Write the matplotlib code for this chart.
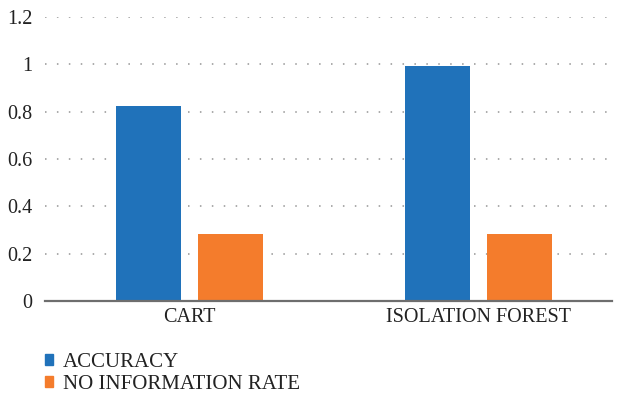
import numpy as np
import matplotlib.pyplot as plt
from matplotlib.patches import Patch

categories = ["CART", "ISOLATION FOREST"]
accuracy = [0.824, 0.995]
no_info_rate = [0.283, 0.283]
series_names = ["ACCURACY", "NO INFORMATION RATE"]
yticks = [0, 0.2, 0.4, 0.6, 0.8, 1, 1.2]
ytick_labels = ["0", "0.2", "0.4", "0.6", "0.8", "1", "1.2"]

BLUE = "#2072ba"
ORANGE = "#f47c2c"

plt.rcParams['font.family'] = ['Liberation Serif', 'DejaVu Serif']

fig = plt.figure(figsize=(6.19, 3.98), dpi=100)
W, H = 619, 398
ax = fig.add_axes([45 / W, 1 - 301 / H, (612 - 45) / W, (301 - 17) / H])

x = np.arange(len(categories))
width = 0.225
offset = 0.142
ax.bar(x - offset, accuracy, width, color=BLUE, zorder=3)
ax.bar(x + offset, no_info_rate, width, color=ORANGE, zorder=3)

ax.set_xlim(-0.501, 1.464)
ax.set_ylim(0, 1.2)
ax.set_yticks(yticks)
ax.set_yticklabels(ytick_labels)
ax.set_xticks(x)
ax.set_xticklabels(categories)

ax.grid(axis='y', color='#959595', linewidth=1.1, linestyle=(0, (1, 6.8)), zorder=0)
for s in ['top', 'right', 'left']:
    ax.spines[s].set_visible(False)
ax.spines['bottom'].set_color('#6e6e6e')
ax.spines['bottom'].set_linewidth(1.6)
ax.spines['bottom'].set_zorder(4)
ax.tick_params(length=0, labelsize=14.5, colors='#222222')
ax.tick_params(axis='y', pad=9)
ax.tick_params(axis='x', pad=5)

handles = [Patch(color=BLUE), Patch(color=ORANGE)]
fig.legend(handles, series_names, loc='upper left', bbox_to_anchor=(45 / W, 1 - 353 / H),
           frameon=False, fontsize=15, handlelength=0.4, handleheight=0.4,
           handletextpad=0.45, labelspacing=0.15, labelcolor='#222222',
           borderpad=0, borderaxespad=0)

fig.savefig("out.png", dpi=100)
